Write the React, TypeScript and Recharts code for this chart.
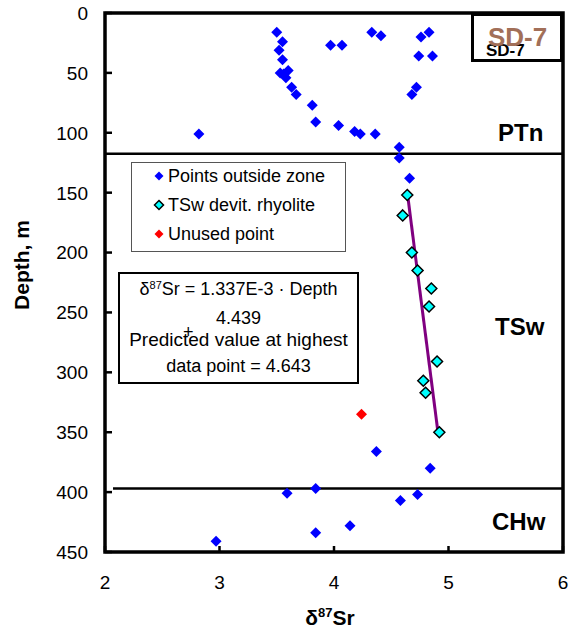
import React from 'react';
import { ScatterChart, Scatter, XAxis, YAxis, ReferenceLine, ReferenceArea } from 'recharts';

// delta-87Sr vs depth, borehole SD-7
const outsideSr = [3.5, 3.55, 3.52, 3.55, 3.53, 3.6, 3.58, 3.56, 3.63, 3.67, 3.81, 3.84, 2.82, 3.97, 4.07, 4.33, 4.41, 4.76, 4.83, 4.74, 4.86, 4.72, 4.68, 4.04, 4.18, 4.23, 4.36, 4.57, 4.57, 4.66, 4.37, 4.84, 3.59, 3.84, 4.58, 4.73, 4.14, 3.84, 2.97];
const outsideDepth = [16, 24, 31, 39, 50, 48, 54, 51, 62, 68, 77, 91, 101, 27, 27, 16, 19, 20, 16, 36, 36, 62, 68, 94, 99, 101, 101, 112, 121, 138, 366, 380, 401, 397, 407, 402, 428, 434, 441];
const tswSr = [4.64, 4.6, 4.68, 4.73, 4.85, 4.83, 4.9, 4.78, 4.8, 4.92];
const tswDepth = [152, 169, 200, 215, 230, 245, 291, 307, 317, 350];
const unusedSr = [4.24];
const unusedDepth = [335];
const fitSr = [4.643, 4.908];
const fitDepth = [152, 350];
const xTicks = [2, 3, 4, 5, 6];
const yTicks = [0, 50, 100, 150, 200, 250, 300, 350, 400, 450];
const ptnBase = 117.5;
const tswBase = 397;

const FONT = '"Liberation Sans", Arial, sans-serif';

const zip = (xs: number[], ys: number[]) => xs.map((x, i) => ({ x, y: ys[i] }));

const Diamond = ({ cx, cy, r, fill, stroke }: any) => (
  <polygon
    points={`${cx},${cy - r} ${cx + r},${cy} ${cx},${cy + r} ${cx - r},${cy}`}
    fill={fill}
    stroke={stroke || 'none'}
    strokeWidth={stroke ? 1.5 : 0}
  />
);

const YTick = ({ x, y, payload }: any) => (
  <g>
    <line x1={x + 17} x2={x + 24} y1={y} y2={y} stroke="#000" strokeWidth={2.5} />
    <text x={x} y={y} dy="0.36em" textAnchor="end" fontSize={19} fontFamily={FONT} fill="#000">
      {payload.value}
    </text>
  </g>
);

const XTick = ({ x, y, payload }: any) => (
  <g>
    <line x1={x} x2={x} y1={y} y2={y - 6} stroke="#000" strokeWidth={2.5} />
    <text x={x} y={y + 37} textAnchor="middle" fontSize={19} fontFamily={FONT} fill="#000">
      {payload.value}
    </text>
  </g>
);

const LegendMark = ({ color, stroke }: { color: string; stroke?: string }) => (
  <svg width={12} height={12} style={{ position: 'absolute', left: 21, top: -6 }}>
    <Diamond cx={6} cy={6} r={4.5} fill={color} stroke={stroke} />
  </svg>
);

const legendRows = [
  { label: 'Points outside zone', color: '#0000FF' },
  { label: 'TSw devit. rhyolite', color: '#00FFFF', stroke: '#000' },
  { label: 'Unused point', color: '#FF0000' },
];

const abs = (left: number, top: number, extra: React.CSSProperties = {}): React.CSSProperties => ({
  position: 'absolute',
  left,
  top,
  fontFamily: FONT,
  whiteSpace: 'nowrap',
  ...extra,
});

export default function App() {
  return (
    <div style={{ position: 'relative', width: 570, height: 630, background: '#fff' }}>
      <style>{'body { margin: 0; }'}</style>
      <ScatterChart width={570} height={630} margin={{ top: 13, right: 7, bottom: 0, left: 0 }}>
        <XAxis
          type="number"
          dataKey="x"
          domain={[2, 6]}
          ticks={xTicks}
          interval={0}
          axisLine={false}
          tickLine={false}
          tickSize={0}
          tickMargin={0}
          height={78}
          tick={<XTick />}
        />
        <YAxis
          type="number"
          dataKey="y"
          domain={[0, 450]}
          ticks={yTicks}
          interval={0}
          reversed
          axisLine={false}
          tickLine={false}
          tickSize={0}
          tickMargin={17}
          width={105}
          tick={<YTick />}
        />
        <ReferenceArea x1={2} x2={6} y1={0} y2={450} fill="none" stroke="#000" strokeWidth={3.5} />
        <ReferenceLine y={ptnBase} stroke="#000" strokeWidth={2.5} />
        <ReferenceLine
          segment={[
            { x: 2.07, y: tswBase },
            { x: 6, y: tswBase },
          ]}
          stroke="#000"
          strokeWidth={2.5}
        />
        <Scatter
          data={zip(fitSr, fitDepth)}
          line={{ stroke: '#800080', strokeWidth: 3 }}
          shape={() => <g />}
          isAnimationActive={false}
        />
        <Scatter
          data={zip(outsideSr, outsideDepth)}
          shape={(p: any) => <Diamond cx={p.cx} cy={p.cy} r={5.5} fill="#0000FF" />}
          isAnimationActive={false}
        />
        <Scatter
          data={zip(tswSr, tswDepth)}
          shape={(p: any) => <Diamond cx={p.cx} cy={p.cy} r={5.5} fill="#00FFFF" stroke="#000" />}
          isAnimationActive={false}
        />
        <Scatter
          data={zip(unusedSr, unusedDepth)}
          shape={(p: any) => <Diamond cx={p.cx} cy={p.cy} r={5.5} fill="#FF0000" />}
          isAnimationActive={false}
        />
      </ScatterChart>

      {/* borehole tag */}
      <div
        style={abs(471, 13, {
          width: 92,
          height: 49,
          boxSizing: 'border-box',
          border: '3px solid #000',
          background: '#fff',
        })}
      />
      <div style={abs(486, 42, { fontSize: 17, lineHeight: '17px', fontWeight: 'bold', color: '#000' })}>SD-7</div>
      <div style={abs(488, 24, { fontSize: 26, lineHeight: '26px', fontWeight: 'bold', color: '#A26F58' })}>SD-7</div>

      {/* zone names */}
      <div style={abs(498, 121, { fontSize: 24, lineHeight: '24px', fontWeight: 'bold' })}>PTn</div>
      <div style={abs(495, 315, { fontSize: 24, lineHeight: '24px', fontWeight: 'bold' })}>TSw</div>
      <div style={abs(492, 510, { fontSize: 24, lineHeight: '24px', fontWeight: 'bold' })}>CHw</div>

      {/* legend */}
      <div
        style={abs(131, 162, {
          width: 215,
          height: 90,
          boxSizing: 'border-box',
          border: '1.5px solid #555',
          background: '#fff',
        })}
      >
        {legendRows.map((r, i) => (
          <div key={r.label} style={{ position: 'absolute', left: 0, top: 13 + i * 29 }}>
            <LegendMark color={r.color} stroke={r.stroke} />
            <div style={abs(36, -9, { fontSize: 18, lineHeight: '18px' })}>{r.label}</div>
          </div>
        ))}
      </div>

      {/* regression equation */}
      <div
        style={abs(118, 272, {
          width: 241,
          height: 112,
          boxSizing: 'border-box',
          border: '2px solid #000',
          background: '#fff',
          fontSize: 18,
          lineHeight: '18px',
          textAlign: 'center',
        })}
      >
        <div style={{ position: 'absolute', left: 0, right: 0, top: 6 }}>
          δ<sup style={{ fontSize: 11, verticalAlign: '6px', lineHeight: 0 }}>87</sup>Sr = 1.337E-3 · Depth
        </div>
        <div style={{ position: 'absolute', left: 0, right: 0, top: 35 }}>4.439</div>
        <div style={{ position: 'absolute', left: 63, top: 49 }}>+</div>
        <div style={{ position: 'absolute', left: 0, right: 0, top: 57, fontSize: 19 }}>Predicted value at highest</div>
        <div style={{ position: 'absolute', left: 0, right: 0, top: 83 }}>data point = 4.643</div>
      </div>

      {/* axis titles */}
      <div
        style={abs(21, 265, {
          fontSize: 21,
          lineHeight: '21px',
          fontWeight: 'bold',
          transform: 'translate(-50%, -50%) rotate(-90deg)',
        })}
      >
        Depth, m
      </div>
      <div
        style={abs(330, 617, {
          fontSize: 21,
          lineHeight: '21px',
          fontWeight: 'bold',
          transform: 'translate(-50%, -50%)',
        })}
      >
        δ<sup style={{ fontSize: 13, verticalAlign: '8px', lineHeight: 0 }}>87</sup>Sr
      </div>
    </div>
  );
}
